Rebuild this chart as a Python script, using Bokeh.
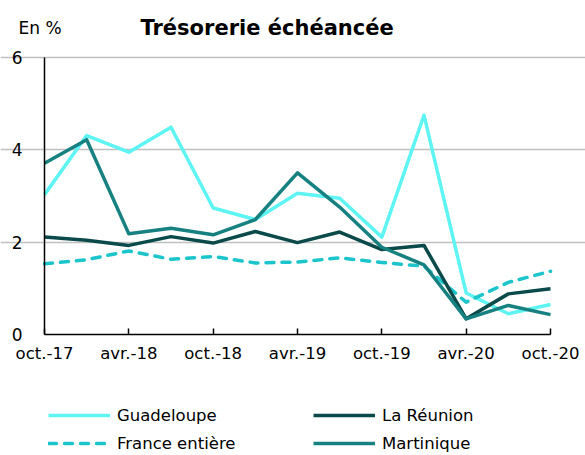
from bokeh.plotting import figure
from bokeh.models import (FixedTicker, Legend, LegendItem, Label, ColumnDataSource, Range1d)
from bokeh.embed import file_html
from bokeh.resources import INLINE

periods = ["oct.-17", "janv.-18", "avr.-18", "juil.-18", "oct.-18", "janv.-19", "avr.-19",
           "juil.-19", "oct.-19", "janv.-20", "avr.-20", "juil.-20", "oct.-20"]
guadeloupe = [3.03, 4.31, 3.95, 4.49, 2.74, 2.49, 3.06, 2.95, 2.11, 4.75, 0.90, 0.45, 0.65]
reunion = [2.11, 2.04, 1.93, 2.12, 1.98, 2.23, 1.99, 2.22, 1.84, 1.93, 0.34, 0.88, 0.99]
france = [1.53, 1.62, 1.81, 1.63, 1.69, 1.55, 1.57, 1.66, 1.56, 1.48, 0.70, 1.13, 1.37]
martinique = [3.71, 4.22, 2.18, 2.30, 2.16, 2.49, 3.50, 2.76, 1.89, 1.51, 0.34, 0.63, 0.43]
y_ticks = [0, 2, 4, 6]

FONT = "DejaVu Sans"
W, H = 585, 455
# pixel placement of the data area inside the canvas
X0, X1, Y6, Y0 = 44, 550, 57, 334
n = len(periods)
idx = list(range(n))
xs = (X1 - X0) / (n - 1)
ys = (Y0 - Y6) / 6.0
src = ColumnDataSource(dict(x=idx, gua=guadeloupe, reu=reunion, fra=france, mar=martinique))

p = figure(width=W, height=H, output_backend="svg", toolbar_location=None,
           x_range=Range1d(-X0 / xs, (n - 1) + (W - X1) / xs),
           y_range=Range1d(-(H - Y0) / ys, 6 + Y6 / ys),
           min_border=0)
p.outline_line_color = None
p.background_fill_color = "white"
p.border_fill_color = "white"

c_gua, c_fra, c_reu, c_mar = "#5EF4F4", "#1CC4CC", "#0B4A4A", "#178080"
lw = 3.5
r_gua = p.line("x", "gua", source=src, line_color=c_gua, line_width=lw, line_join="round")
r_fra = p.line("x", "fra", source=src, line_color=c_fra, line_width=lw, line_dash="8 8",
               line_cap="round", line_join="round")
r_reu = p.line("x", "reu", source=src, line_color=c_reu, line_width=lw, line_join="round")
r_mar = p.line("x", "mar", source=src, line_color=c_mar, line_width=lw, line_join="round")

# axes
xa = p.xaxis[0]
xa.fixed_location = 0
xa.bounds = (0, n - 1)
xa.ticker = FixedTicker(ticks=idx[::2])
xa.major_label_overrides = {i: periods[i] for i in idx[::2]}
xa.major_tick_in = 6
xa.major_tick_out = 0
xa.minor_tick_line_color = None
xa.axis_line_color = "black"
xa.axis_line_width = 1.5
xa.major_tick_line_color = "black"
xa.major_tick_line_width = 1.5
xa.major_label_standoff = 9
xa.major_label_text_font = FONT
xa.major_label_text_font_size = "16.5px"
xa.major_label_text_color = "black"

ya = p.yaxis[0]
ya.fixed_location = 0
ya.bounds = (0, 6)
ya.ticker = FixedTicker(ticks=y_ticks)
ya.major_tick_in = 0
ya.major_tick_out = 0
ya.minor_tick_line_color = None
ya.axis_line_color = "black"
ya.axis_line_width = 1.5
ya.major_label_standoff = 22
ya.major_label_text_font = FONT
ya.major_label_text_font_size = "17px"
ya.major_label_text_color = "black"

p.xgrid.grid_line_color = None
p.ygrid.grid_line_color = "#C0C0C0"
p.ygrid.grid_line_width = 1.5
p.ygrid.bounds = (0, n - 1)
p.ygrid.ticker = FixedTicker(ticks=y_ticks[1:])

p.add_layout(Label(x=(140 - X0) / xs, y=(Y0 - 27) / ys, text="Trésorerie échéancée",
                   text_font=FONT, text_font_style="bold", text_font_size="21px",
                   text_baseline="middle", text_align="left", text_color="black"))
p.add_layout(Label(x=(18 - X0) / xs, y=(Y0 - 27) / ys, text="En %", text_font=FONT,
                   text_font_size="17px", text_baseline="middle", text_align="left",
                   text_color="black"))

legend = Legend(items=[LegendItem(label="Guadeloupe", renderers=[r_gua]),
                       LegendItem(label="France entière", renderers=[r_fra]),
                       LegendItem(label="La Réunion", renderers=[r_reu]),
                       LegendItem(label="Martinique", renderers=[r_mar])],
                ncols=2, location=(48, 2), padding=0, margin=0, spacing=8,
                glyph_width=62, glyph_height=20, label_height=20, label_width=188,
                label_standoff=7, label_text_font=FONT, label_text_font_size="16.5px",
                label_text_color="black",
                border_line_color=None, background_fill_alpha=0)
p.add_layout(legend, "center")

open("out.html", "w").write(file_html(p, INLINE))
